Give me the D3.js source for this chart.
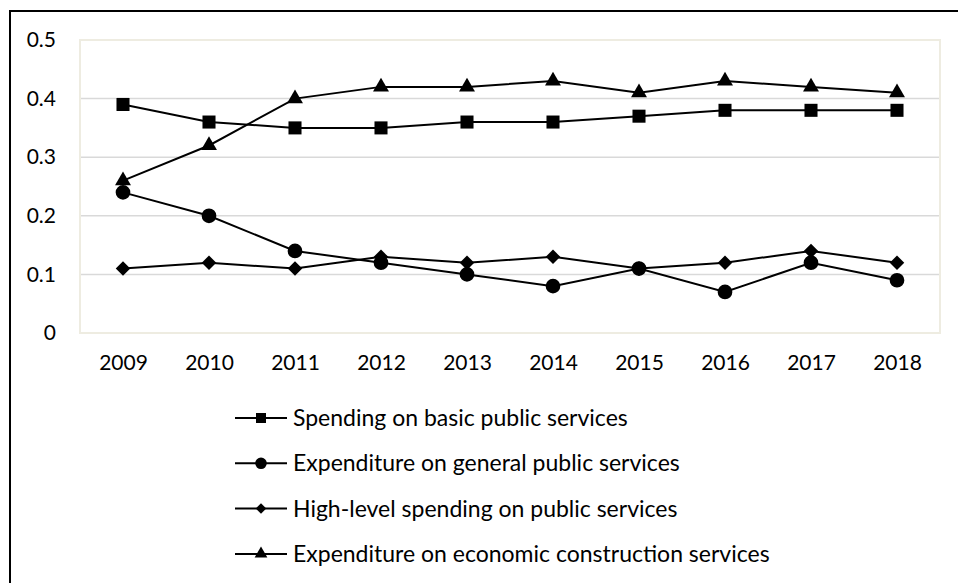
<!DOCTYPE html>
<html>
<head>
<meta charset="utf-8">
<script src="https://cdn.jsdelivr.net/npm/d3@7"></script>
<style>
  body { margin: 0; background: #fff; }
  svg { display: block; font-family: Lato, "Open Sans", sans-serif; }
</style>
</head>
<body>
<svg id="chart" width="958" height="583"></svg>
<script>
// data
const years = ["2009", "2010", "2011", "2012", "2013", "2014", "2015", "2016", "2017", "2018"];
const basicSpending = [0.39, 0.36, 0.35, 0.35, 0.36, 0.36, 0.37, 0.38, 0.38, 0.38];
const generalExpenditure = [0.24, 0.20, 0.14, 0.12, 0.10, 0.08, 0.11, 0.07, 0.12, 0.09];
const highLevelSpending = [0.11, 0.12, 0.11, 0.13, 0.12, 0.13, 0.11, 0.12, 0.14, 0.12];
const economicExpenditure = [0.26, 0.32, 0.40, 0.42, 0.42, 0.43, 0.41, 0.43, 0.42, 0.41];
const yTicks = [0, 0.1, 0.2, 0.3, 0.4, 0.5];
const seriesNames = [
    "Spending on basic public services",
    "Expenditure on general public services",
    "High-level spending on public services",
    "Expenditure on economic construction services"
];

// marker sizes: [plot, legend]
const series = [
    { name: seriesNames[0], values: basicSpending, symbol: d3.symbolSquare, size: [170, 100] },
    { name: seriesNames[1], values: generalExpenditure, symbol: d3.symbolCircle, size: [170, 105] },
    { name: seriesNames[2], values: highLevelSpending, symbol: d3.symbolDiamond2, size: [135, 70] },
    { name: seriesNames[3], values: economicExpenditure, symbol: d3.symbolTriangle, size: [110, 70] }
];

const svg = d3.select("#chart");
const margin = { top: 40, left: 80, right: 18, bottom: 250 };
const width = 958 - margin.left - margin.right;
const height = 583 - margin.top - margin.bottom;

// outer frame (only left and top edges show)
svg.append("path")
    .attr("d", "M10,583V11H958")
    .attr("fill", "none")
    .attr("stroke", "#000")
    .attr("stroke-width", 2);

const x = d3.scalePoint().domain(years).range([0, width]).padding(0.5);
const y = d3.scaleLinear().domain([0, 0.5]).range([height, 0]);

const g = svg.append("g")
    .attr("transform", "translate(" + margin.left + "," + margin.top + ")");

// gridlines
g.append("g")
    .selectAll("line")
    .data(yTicks.slice(1, -1))
    .enter()
    .append("line")
    .attr("x1", 0)
    .attr("x2", width)
    .attr("y1", (d) => y(d))
    .attr("y2", (d) => y(d))
    .attr("stroke", "#d9d9d9")
    .attr("stroke-width", 1.5);

// plot area border
g.append("rect")
    .attr("x", 0)
    .attr("y", 0)
    .attr("width", width)
    .attr("height", height)
    .attr("fill", "none")
    .attr("stroke", "#eeece1")
    .attr("stroke-width", 2);

// y axis labels
const yAxis = g.append("g")
    .attr("transform", "translate(-24,0)")
    .call(d3.axisLeft(y).tickValues(yTicks).tickSize(0).tickPadding(0).tickFormat((d) => d3.format("")(d)));
yAxis.select(".domain").remove();
yAxis.selectAll("text").attr("font-size", "21px").attr("fill", "#000").attr("font-family", "Lato");

// x axis labels
const xAxis = g.append("g")
    .attr("transform", "translate(0," + height + ")")
    .call(d3.axisBottom(x).tickSize(0).tickPadding(22));
xAxis.select(".domain").remove();
xAxis.selectAll("text").attr("font-size", "21px").attr("fill", "#000").attr("font-family", "Lato");

// lines
const line = d3.line()
    .x((d, i) => x(years[i]))
    .y((d) => y(d));

series.forEach(function (s) {
    g.append("path")
        .datum(s.values)
        .attr("d", line)
        .attr("fill", "none")
        .attr("stroke", "#000")
        .attr("stroke-width", 2);
});

// markers
series.forEach(function (s) {
    g.append("g")
        .selectAll("path")
        .data(s.values)
        .enter()
        .append("path")
        .attr("transform", (d, i) => "translate(" + x(years[i]) + "," + y(d) + ")")
        .attr("d", d3.symbol().type(s.symbol).size(s.size[0]))
        .attr("fill", "#000");
});

// legend
const legend = svg.append("g").attr("transform", "translate(235,418)");
series.forEach(function (s, i) {
    const row = legend.append("g").attr("transform", "translate(0," + i * 45.3 + ")");
    row.append("line")
        .attr("x1", 0)
        .attr("x2", 52)
        .attr("stroke", "#000")
        .attr("stroke-width", 2);
    row.append("path")
        .attr("transform", "translate(26,0)")
        .attr("d", d3.symbol().type(s.symbol).size(s.size[1]))
        .attr("fill", "#000");
    row.append("text")
        .attr("x", 58)
        .attr("dy", "0.35em")
        .attr("font-size", "23px")
        .attr("fill", "#000")
        .text(s.name);
});
</script>
</body>
</html>
